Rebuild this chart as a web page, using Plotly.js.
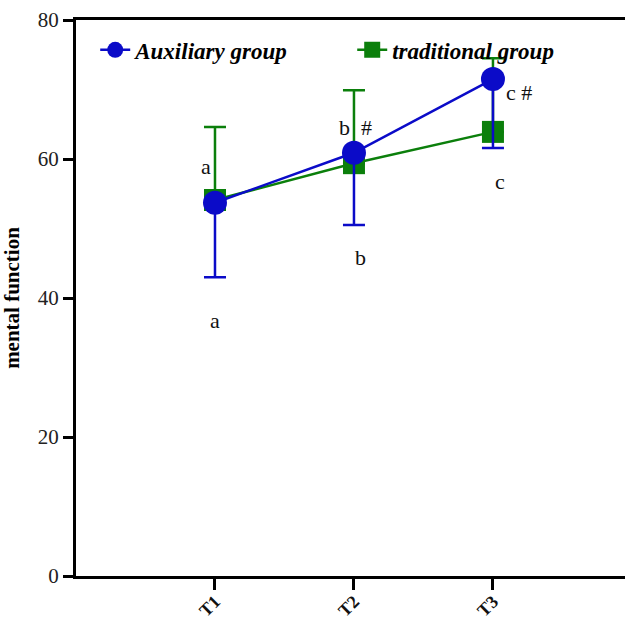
<!DOCTYPE html>
<html><head><meta charset="utf-8">
<script src="https://cdn.plot.ly/plotly-3.0.1.min.js"></script>
<style>html,body{margin:0;padding:0;background:#fff}#chart{width:625px;height:622px}</style>
</head><body><div id="chart"></div>
<script>
const categories = ['T1','T2','T3'];
const auxMean = [53.7, 60.9, 71.5];
const auxSD = [10.7, 10.4, 9.9];
const tradMean = [54.1, 59.4, 63.9];
const tradSD = [10.5, 10.5, 10.6];
const labelText = ['a','a','b  #','b','c #','c'];
const labelX = [0, 0, 1, 1, 2, 2];
const labelY = [58.9, 36.8, 64.5, 45.9, 69.5, 56.7];
const labelShift = [-9, 0, 2, 7, 26, 7];

const blue = '#0b0bc8', green = '#0b7f0b';
const serif = 'Liberation Serif';

const xIdx = categories.map((c,i)=>i);
const traces = [
  {x: xIdx, y: tradMean, name: 'traditional group', type: 'scatter', mode: 'lines+markers',
   line: {color: green, width: 2.5}, marker: {symbol: 'square', size: 22, color: green},
   error_y: {type: 'data', symmetric: false, array: tradSD, arrayminus: tradMean.map(()=>0), color: green, thickness: 2.5, width: 11}},
  {x: xIdx, y: auxMean, name: 'Auxiliary group', type: 'scatter', mode: 'lines+markers',
   line: {color: blue, width: 2.5}, marker: {symbol: 'circle', size: 24, color: blue},
   error_y: {type: 'data', symmetric: false, array: auxMean.map(()=>0), arrayminus: auxSD, color: blue, thickness: 2.5, width: 11}}
];

const annotations = labelText.map((t,i)=>({x: labelX[i], y: labelY[i], xref:'x', yref:'y', text: t, showarrow:false, xshift: labelShift[i], font:{family: serif, size: 22, color:'#111'}}));

const layout = {
  width: 625, height: 622,
  font: {family: serif, color: '#111'},
  margin: {l: 76, r: 0, t: 20, b: 46},
  paper_bgcolor: '#fff', plot_bgcolor: '#fff',
  showlegend: true,
  legend: {orientation: 'h', x: 0.035, y: 0.985, xanchor: 'left', yanchor: 'top', traceorder: 'reversed',
           entrywidth: 212, itemsizing: 'trace', font: {family: serif, size: 23, color: '#000', weight: 'bold', style: 'italic'}, bgcolor: 'rgba(0,0,0,0)'},
  xaxis: {range: [-1, 2.95], tickmode: 'array', tickvals: xIdx, ticktext: categories, tickangle: -45,
          showgrid: false, zeroline: false, showline: true, linewidth: 3, linecolor: '#000', mirror: true,
          ticks: 'outside', ticklen: 11, tickwidth: 3, tickcolor: '#000', ticklabelstandoff: -6,
          tickfont: {family: serif, size: 18, color: '#111', weight: 'bold'}},
  yaxis: {range: [0, 80], tickvals: [0,20,40,60,80], showgrid: false, zeroline: false, showline: true, linewidth: 3, linecolor: '#000',
          ticks: 'outside', ticklen: 10, tickwidth: 3, tickcolor: '#000',
          tickfont: {family: serif, size: 21, color: '#222'},
          title: {text: 'mental function', font: {family: serif, size: 21, color: '#000', weight: 'bold'}, standoff: 20}},
  annotations: annotations
};
Plotly.newPlot('chart', traces, layout, {displayModeBar: false, staticPlot: true});
</script></body></html>
